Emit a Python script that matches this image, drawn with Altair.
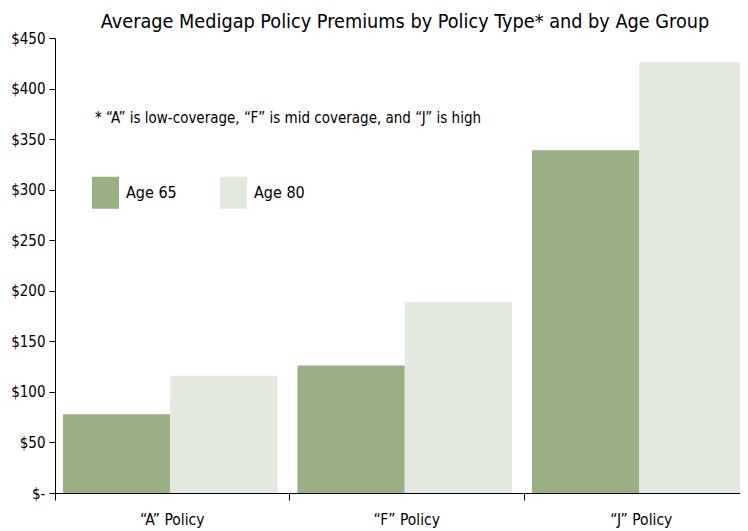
import altair as alt
import pandas as pd

policies = ["\u201cA\u201d Policy", "\u201cF\u201d Policy", "\u201cJ\u201d Policy"]
ages = ["Age 65", "Age 80"]
age65 = [78, 126, 339]
age80 = [116, 189, 426]
colors = ["#99AF84", "#E3E9DE"]
y_ticks = [0, 50, 100, 150, 200, 250, 300, 350, 400, 450]
note_text = ["* \u201cA\u201d is low-coverage, \u201cF\u201d is mid coverage, and \u201cJ\u201d is high"]

rows = []
for p, a, b in zip(policies, age65, age80):
    rows.append({"policy": p, "age": ages[0], "value": a})
    rows.append({"policy": p, "age": ages[1], "value": b})
df = pd.DataFrame(rows)

FONT = "DejaVu Sans Condensed, Liberation Sans, sans-serif"

bars = alt.Chart(df).mark_bar(strokeWidth=0).encode(
    x=alt.X(
        "policy:N",
        sort=policies,
        scale=alt.Scale(range=[0, 703.5], paddingInner=0, paddingOuter=0),
        axis=alt.Axis(
            title=None, labelAngle=0, bandPosition=0, tickSize=7,
            labelPadding=12, labelFont=FONT, labelFontSize=15.5,
            labelColor="black", domainColor="black", tickColor="black",
            grid=False,
        ),
    ),
    xOffset=alt.XOffset(
        "age:N", sort=ages,
        scale=alt.Scale(paddingInner=0, paddingOuter=0.093, align=0.4),
    ),
    y=alt.Y(
        "value:Q",
        scale=alt.Scale(domain=[0, 450], nice=False, zero=True),
        axis=alt.Axis(
            title=None, values=y_ticks, grid=False, tickSize=6, labelPadding=4,
            labelExpr="datum.value == 0 ? '$-' : '$' + datum.value",
            labelFont=FONT, labelFontSize=15, labelColor="black",
            domainColor="black", tickColor="black",
        ),
    ),
    color=alt.Color(
        "age:N",
        sort=ages,
        scale=alt.Scale(domain=ages, range=colors),
        legend=alt.Legend(
            title=None, orient="none", legendX=37, legendY=141,
            direction="horizontal", symbolType="M-1,-1.185H1V1.185H-1Z",
            symbolSize=729, symbolStrokeWidth=0, symbolOpacity=1,
            labelFont=FONT, labelFontSize=16, labelColor="black",
            labelOffset=7, columnPadding=43, padding=0,
        ),
    ),
)

note = alt.Chart(pd.DataFrame({"t": note_text})).mark_text(
    align="left", baseline="alphabetic", font=FONT, fontSize=15, color="black"
).encode(x=alt.value(40), y=alt.value(85), text="t:N")

chart = alt.layer(bars, note).properties(
    width=685,
    height=455,
    title=alt.TitleParams(
        "Average Medigap Policy Premiums by Policy Type* and by Age Group",
        font=FONT, fontSize=19.7, fontWeight="normal", color="black",
        anchor="middle", dx=7.5, offset=-16.5, baseline="alphabetic",
    ),
    autosize=alt.AutoSizeParams(type="none"),
    padding={"left": 47, "top": 30, "right": 0, "bottom": 38},
).configure_view(stroke=None)

chart.save("out.html", embed_options={"renderer": "svg", "actions": False})
